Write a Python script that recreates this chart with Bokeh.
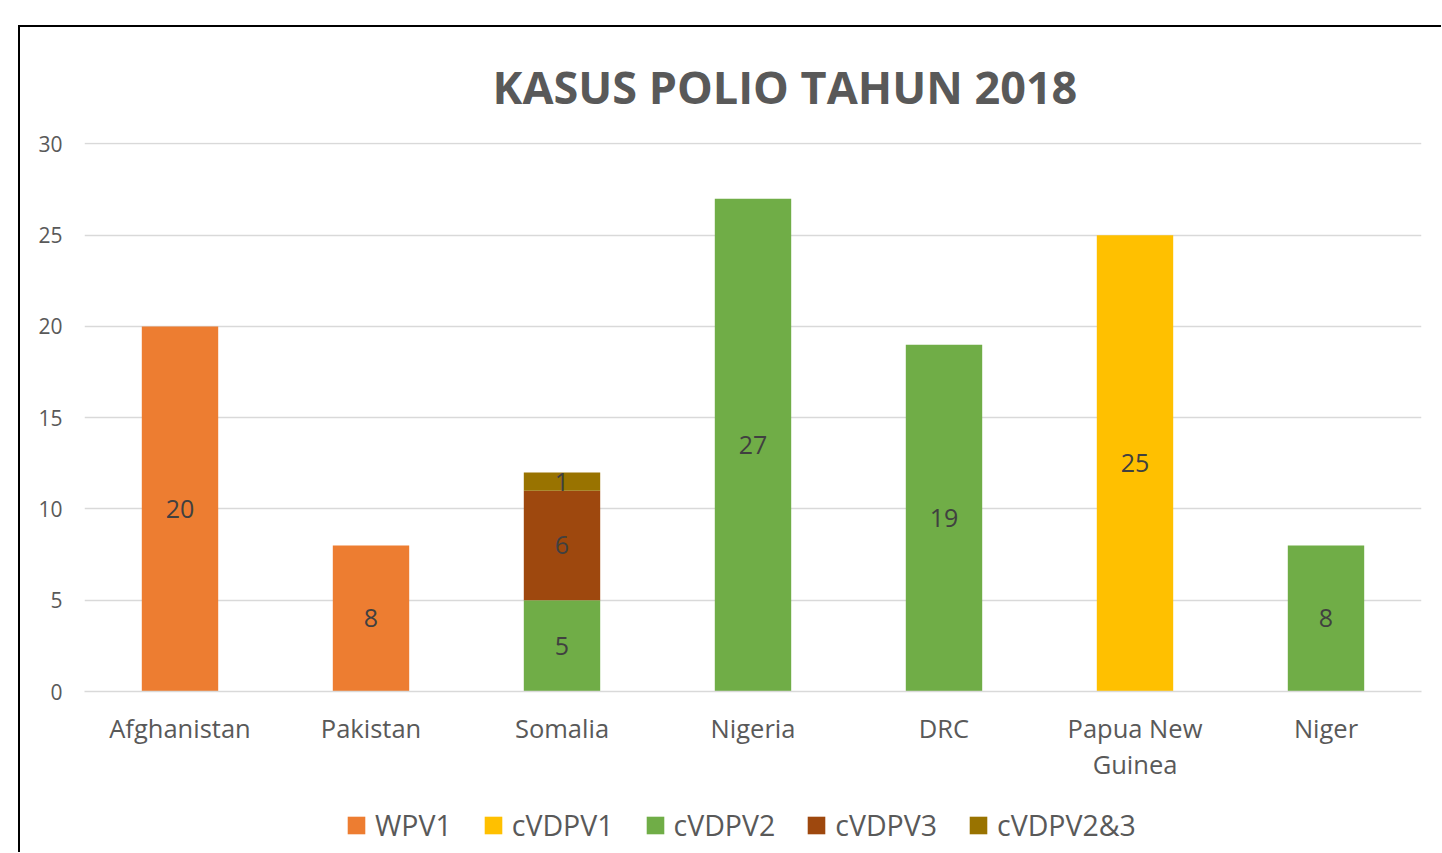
from bokeh.plotting import figure
from bokeh.layouts import column
from bokeh.models import (FactorRange, Range1d, Legend, LegendItem,
                          ColumnDataSource, SingleIntervalTicker)
from bokeh.core.properties import value
from bokeh.embed import file_html
from bokeh.resources import INLINE

categories = ["Afghanistan", "Pakistan", "Somalia", "Nigeria", "DRC", "Papua New\nGuinea", "Niger"]
series_names = ["WPV1", "cVDPV1", "cVDPV2", "cVDPV3", "cVDPV2&3"]
WPV1 = [20, 8, 0, 0, 0, 0, 0]
cVDPV1 = [0, 0, 0, 0, 0, 25, 0]
cVDPV2 = [0, 0, 5, 27, 19, 0, 8]
cVDPV3 = [0, 0, 6, 0, 0, 0, 0]
cVDPV2_3 = [0, 0, 1, 0, 0, 0, 0]
colors = ["#ED7D31", "#FFC000", "#70AD47", "#9E480E", "#997300"]
title_text = "KASUS POLIO TAHUN 2018"

series = [WPV1, cVDPV1, cVDPV2, cVDPV3, cVDPV2_3]
data = {"cat": categories}
for n, s in zip(series_names, series):
    data[n] = s
source = ColumnDataSource(data)

FONT = "Open Sans"
TXT = "#595959"

p = figure(x_range=FactorRange(*categories, range_padding=0), y_range=Range1d(0, 30.08),
           width=1421, height=772, output_backend="svg", toolbar_location=None,
           min_border_left=64, min_border_right=20, min_border_top=115, min_border_bottom=108,
           title=title_text)
p.outline_line_color = None
p.background_fill_color = "white"
p.border_fill_color = "white"

p.title.text_font = FONT
p.title.text_font_size = "45px"
p.title.text_font_style = "bold"
p.title.text_color = TXT
p.title.align = "left"
p.title.offset = 408
p.title.standoff = 52

renderers = p.vbar_stack(series_names, x="cat", width=0.4, source=source,
                         fill_color=colors, line_color=None)

# data labels
lx, ly, lt = [], [], []
for i, c in enumerate(categories):
    base = 0
    for s in series:
        v = s[i]
        if v:
            lx.append(c)
            ly.append(base + v / 2)
            lt.append(str(v))
        base += v
p.text(x=lx, y=ly, text=lt, text_font=value(FONT), text_font_size="25px",
       text_color="#404040", text_align="center", text_baseline="middle")

# axes
p.yaxis.ticker = SingleIntervalTicker(interval=5)
p.yaxis.axis_line_color = None
p.yaxis.major_tick_line_color = None
p.yaxis.minor_tick_line_color = None
p.yaxis.major_label_text_font = FONT
p.yaxis.major_label_text_font_size = "21px"
p.yaxis.major_label_text_color = TXT
p.yaxis.major_label_standoff = 16

p.xaxis.axis_line_color = "#D9D9D9"
p.xaxis.axis_line_width = 1.5
p.xaxis.major_tick_line_color = None
p.xaxis.minor_tick_line_color = None
p.xaxis.major_label_text_font = FONT
p.xaxis.major_label_text_font_size = "25.5px"
p.xaxis.major_label_text_color = TXT
p.xaxis.major_label_standoff = 13
p.xaxis.major_label_text_line_height = 1.06

p.xgrid.grid_line_color = None
p.ygrid.grid_line_color = "#D9D9D9"
p.ygrid.grid_line_width = 1.5

# legend strip below the chart (zero-height helper bars only supply legend swatches)
lp = figure(width=1421, height=53, output_backend="svg", toolbar_location=None,
            x_range=Range1d(0, 1), y_range=Range1d(0, 1),
            min_border=0, min_border_left=0, min_border_right=0, min_border_top=0, min_border_bottom=0)
lp.axis.visible = False
lp.grid.visible = False
lp.outline_line_color = None
lp.background_fill_color = "white"
lp.border_fill_color = "white"
leg_renderers = [lp.vbar(x=[0.5], top=[0], bottom=[0], width=0.01, fill_color=c, line_color=None)
                 for c in colors]

legend = Legend(items=[LegendItem(label=n, renderers=[r]) for n, r in zip(series_names, leg_renderers)],
                location=(261, 8), orientation="horizontal",
                glyph_width=22, glyph_height=22, label_standoff=8, spacing=30,
                padding=0, margin=0, border_line_color=None, background_fill_alpha=0,
                label_text_font=FONT, label_text_font_size="28.5px", label_text_color=TXT,
                label_text_baseline="middle")
lp.add_layout(legend, "center")

layout = column(p, lp, spacing=0,
                styles={"border-top": "2.5px solid black", "border-left": "2.5px solid black",
                        "margin-left": "18px", "margin-top": "25px"})

open("out.html", "w").write(file_html(layout, INLINE))
